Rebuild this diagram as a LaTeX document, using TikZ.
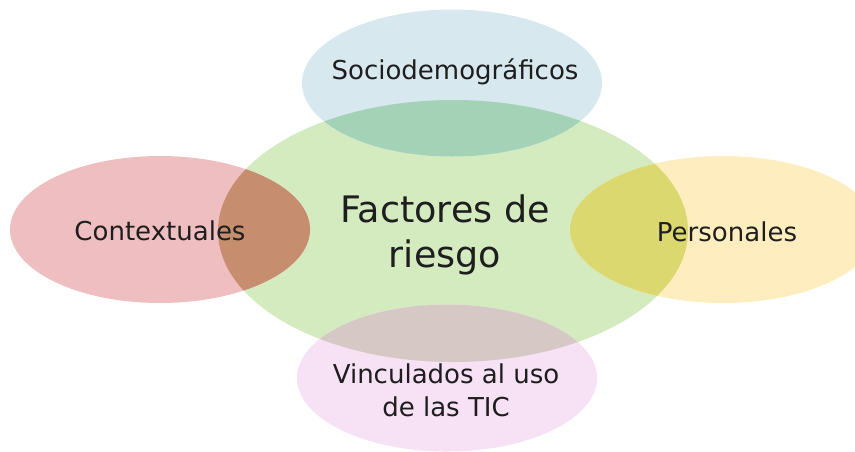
\documentclass[tikz,border=0pt]{standalone}
\usepackage{fontspec}
\setmainfont{DejaVu Sans}
\usetikzlibrary{shapes.geometric}
\definecolor{cgreen}{RGB}{212,235,192}
\definecolor{cblue}{RGB}{215,233,238}
\definecolor{cpink}{RGB}{238,190,192}
\definecolor{cyellow}{RGB}{254,237,190}
\definecolor{clav}{RGB}{246,226,244}
\definecolor{ogb}{RGB}{163,210,182}
\definecolor{ogp}{RGB}{198,142,110}
\definecolor{ogy}{RGB}{220,216,112}
\definecolor{ogl}{RGB}{214,200,196}
\definecolor{txt}{RGB}{30,30,30}
\tikzset{
  blob/.style={ellipse, draw=none, inner sep=0pt, minimum width=300pt, minimum height=147pt},
  lbl/.style={text=txt, anchor=base, inner sep=0pt, font=\fontsize{26}{30}\selectfont},
  big/.style={text=txt, anchor=base, inner sep=0pt, font=\fontsize{36.5}{44}\selectfont}
}
\begin{document}
\begin{tikzpicture}[x=1pt,y=-1pt]
\useasboundingbox (0,0) rectangle (855,451);
\node[ellipse, fill=cgreen, draw=none, inner sep=0pt, minimum width=470pt, minimum height=262pt] (center) at (453,231) {};
\node[blob, fill=cblue] (top) at (452,83) {};
\node[blob, fill=cpink] (left) at (160,229.5) {};
\node[blob, fill=cyellow, minimum width=306pt] (right) at (723,229.5) {};
\node[blob, fill=clav] (bottom) at (447,378) {};
\begin{scope}
  \clip (453,231) ellipse [x radius=235pt, y radius=131pt];
  \fill[ogb] (452,83) ellipse [x radius=150pt, y radius=73.5pt];
  \fill[ogp] (160,229.5) ellipse [x radius=150pt, y radius=73.5pt];
  \fill[ogy] (723,229.5) ellipse [x radius=153pt, y radius=73.5pt];
  \fill[ogl] (447,378) ellipse [x radius=150pt, y radius=73.5pt];
\end{scope}
\node[big] (fr1) at (445,222) {Factores de};
\node[big] (fr2) at (445,267) {riesgo};
\node[lbl] (socio) at (455,79) {Sociodemográficos};
\node[lbl] (cont) at (160,240) {Contextuales};
\node[lbl] (pers) at (727,241) {Personales};
\node[lbl] (vin1) at (446,383) {Vinculados al uso};
\node[lbl] (vin2) at (446,416) {de las TIC};
\end{tikzpicture}
\end{document}
